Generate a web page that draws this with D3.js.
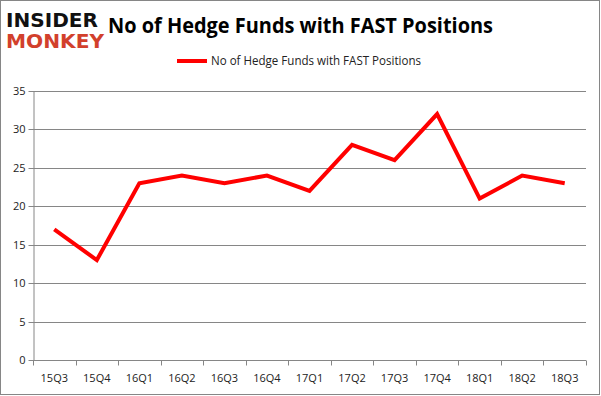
<!DOCTYPE html>
<meta charset="utf-8">
<style>
    body { margin: 0; background: #fff; }
    text { font-family: "Open Sans", "Liberation Sans", sans-serif; }
    .grid line { stroke: #868686; stroke-width: 1px; }
    .axis path, .axis line { stroke: #868686; }
    .axis text { fill: #222; font-size: 11px; }
</style>
<svg width="601" height="396"></svg>
<script src="https://cdn.jsdelivr.net/npm/d3@7"></script>
<script>

    var quarters = ["15Q3", "15Q4", "16Q1", "16Q2", "16Q3", "16Q4", "17Q1", "17Q2", "17Q3", "17Q4", "18Q1", "18Q2", "18Q3"];
    var funds = [17, 13, 23, 24, 23, 24, 22, 28, 26, 32, 21, 24, 23];
    var yTicks = [0, 5, 10, 15, 20, 25, 30, 35];
    var seriesName = "No of Hedge Funds with FAST Positions";

    var svg = d3.select("svg"),
        width = +svg.attr("width"),
        height = +svg.attr("height");

    // plot area (window.top is reserved, so no bare "top")
    var plotLeft = 33, plotRight = 586, plotTop = 91, plotBottom = 360;

    // outer frame
    svg.append("rect")
        .attr("x", 0.5).attr("y", 0.5)
        .attr("width", width - 2).attr("height", height - 2)
        .attr("fill", "#fff").attr("stroke", "#868686");

    var x = d3.scaleBand().domain(quarters).range([plotLeft, plotRight]);
    var y = d3.scaleLinear().domain([0, 35]).range([plotBottom, plotTop]);

    // horizontal gridlines
    svg.append("g").attr("class", "grid")
        .selectAll("line")
        .data(yTicks.slice(1))
        .enter().append("line")
        .attr("x1", plotLeft).attr("x2", plotRight)
        .attr("y1", function(d) { return Math.round(y(d)) + 0.5; })
        .attr("y2", function(d) { return Math.round(y(d)) + 0.5; });

    // y axis
    var yg = svg.append("g").attr("class", "axis")
        .attr("transform", "translate(" + (plotLeft + 0.5) + ",0)")
        .call(d3.axisLeft(y).tickValues(yTicks).tickSize(5).tickPadding(3).tickSizeOuter(0));
    yg.selectAll(".tick").attr("transform", function(d) { return "translate(0," + (Math.round(y(d)) + 0.5) + ")"; });

    // x axis, ticks between categories
    var xg = svg.append("g").attr("class", "axis")
        .attr("transform", "translate(0," + (plotBottom + 0.5) + ")");
    xg.append("line").attr("x1", plotLeft).attr("x2", plotRight);
    xg.selectAll(".tk")
        .data(quarters.concat(["end"]))
        .enter().append("line")
        .attr("x1", function(d, i) { return Math.round(plotLeft + i * x.step()) + 0.5; })
        .attr("x2", function(d, i) { return Math.round(plotLeft + i * x.step()) + 0.5; })
        .attr("y1", 0).attr("y2", 5);
    xg.selectAll("text")
        .data(quarters)
        .enter().append("text")
        .attr("x", function(d) { return x(d) + x.bandwidth() / 2; })
        .attr("y", 21)
        .attr("text-anchor", "middle")
        .text(function(d) { return d; });

    // series line
    var line = d3.line()
        .x(function(d, i) { return x(quarters[i]) + x.bandwidth() / 2; })
        .y(function(d) { return y(d); });

    svg.append("path")
        .datum(funds)
        .attr("d", line)
        .attr("fill", "none")
        .attr("stroke", "#ff0000")
        .attr("stroke-width", 4)
        .attr("stroke-linejoin", "miter");

    // title
    svg.append("text")
        .attr("x", 108).attr("y", 33)
        .attr("textLength", 385).attr("lengthAdjust", "spacingAndGlyphs")
        .style("font-size", "21px").style("font-weight", "bold").attr("fill", "#000")
        .text(seriesName);

    // legend
    svg.append("line")
        .attr("x1", 177).attr("x2", 207).attr("y1", 61).attr("y2", 61)
        .attr("stroke", "#ff0000").attr("stroke-width", 4);
    svg.append("text")
        .attr("x", 211).attr("y", 65)
        .attr("textLength", 210).attr("lengthAdjust", "spacingAndGlyphs")
        .style("font-size", "12px").attr("fill", "#222")
        .text(seriesName);

    // logo
    svg.append("text")
        .attr("x", 6).attr("y", 27)
        .attr("textLength", 92).attr("lengthAdjust", "spacingAndGlyphs")
        .style("font-family", "'DejaVu Sans', sans-serif")
        .style("font-size", "19px").style("font-weight", "bold").attr("fill", "#111")
        .text("INSIDER");
    svg.append("text")
        .attr("x", 6).attr("y", 48)
        .attr("textLength", 98).attr("lengthAdjust", "spacingAndGlyphs")
        .style("font-family", "'DejaVu Sans', sans-serif")
        .style("font-size", "19px").style("font-weight", "bold").attr("fill", "#d2402c")
        .text("MONKEY");

</script>
